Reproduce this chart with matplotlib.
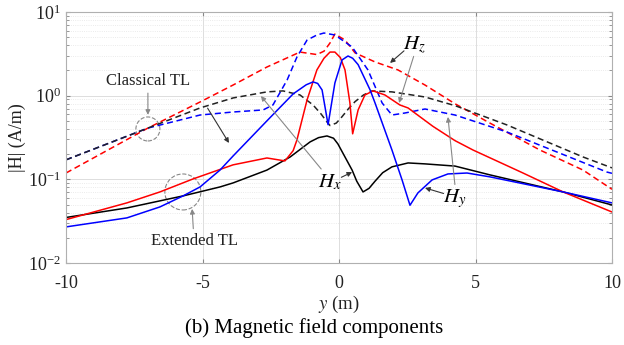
import matplotlib
matplotlib.use("Agg")
import matplotlib.pyplot as plt
from matplotlib.patches import Ellipse

plt.rcParams["font.family"] = ["Liberation Serif", "DejaVu Serif"]
plt.rcParams["mathtext.fontset"] = "stix"
plt.rcParams["axes.unicode_minus"] = False

# |H| (A/m), y in metres
hz_cl_y = [-10, -7.0, -5.09, -3.88, -2.64, -1.43, -0.81, -0.55, -0.33, -0.15, 0.22, 0.59,
           1.32, 2.16, 3.15, 4.25, 5.53, 7.36, 8.94, 10]
hz_cl = [0.119, 0.41, 0.84, 1.34, 2.20, 3.32, 3.10, 3.40, 4.26, 5.46, 4.62, 3.24,
         2.53, 2.03, 1.34, 0.80, 0.47, 0.224, 0.129, 0.076]

hx_cl_y = [-10, -7.0, -5.09, -3.88, -2.64, -2.05, -1.43, -0.95, -0.65, -0.44, -0.33, -0.1,
           0.11, 0.35, 0.59, 0.9, 1.21, 1.94, 3.15, 4.25, 6.15, 8.94, 10]
hx_cl = [0.171, 0.41, 0.713, 0.939, 1.11, 1.14, 1.02, 0.774, 0.60, 0.485, 0.44, 0.47,
         0.56, 0.70, 0.85, 1.02, 1.14, 1.11, 0.964, 0.76, 0.447, 0.185, 0.137]

hy_cl_y = [-10, -7.0, -5.09, -3.88, -2.78, -2.42, -1.90, -1.54, -1.17, -0.81, -0.55, -0.15,
           0.48, 1.06, 1.58, 1.94, 2.42, 3.15, 4.25, 6.15, 9.82, 10]
hy_cl = [0.171, 0.41, 0.587, 0.638, 0.675, 0.774, 1.54, 2.90, 4.62, 5.31, 5.61, 5.31,
         3.82, 2.03, 0.818, 0.587, 0.621, 0.693, 0.587, 0.368, 0.122, 0.118]

hx_ex_y = [-10, -7.77, -5.71, -4.36, -3.88, -2.64, -1.79, -1.06, -0.75, -0.44, -0.2, -0.04,
           0.2, 0.48, 0.65, 0.88, 1.1, 1.32, 1.6, 1.94, 2.53, 3.15, 4.25, 5.53, 8.21, 10]
hx_ex = [0.035, 0.0455, 0.0634, 0.0811, 0.0906, 0.129, 0.185, 0.280, 0.315, 0.330, 0.31, 0.265,
         0.19, 0.129, 0.095, 0.0707, 0.078, 0.095, 0.12, 0.141, 0.157, 0.153, 0.144, 0.113,
         0.0707, 0.0494]

hz_ex_y = [-10, -7.77, -6.56, -5.35, -3.88, -2.64, -1.98, -1.68, -1.54, -1.17, -0.81, -0.55,
           -0.33, -0.15, 0.05, 0.22, 0.40, 0.50, 0.70, 0.95, 1.25, 1.68, 2.23, 2.53, 3.44,
           4.25, 4.91, 6.74, 8.21, 10]
hz_ex = [0.033, 0.0523, 0.0707, 0.101, 0.149, 0.180, 0.166, 0.22, 0.296, 0.889, 2.03, 2.8,
         3.32, 3.32, 2.85, 2.03, 0.818, 0.35, 0.675, 1.02, 1.14, 1.02, 0.774, 0.713, 0.43,
         0.29, 0.224, 0.119, 0.0707, 0.0407]

hy_ex_y = [-10, -7.77, -6.56, -5.71, -5.09, -4.36, -3.88, -2.64, -1.68, -1.2, -0.95, -0.78,
           -0.62, -0.40, -0.15, 0.11, 0.33, 0.5, 0.70, 1.14, 1.32, 1.94, 2.31, 2.60, 2.89,
           3.41, 3.99, 4.69, 5.53, 8.21, 10]
hy_ex = [0.027, 0.0346, 0.0468, 0.0634, 0.0811, 0.129, 0.19, 0.50, 1.05, 1.35, 1.46, 1.40,
         1.17, 0.45, 1.42, 2.67, 2.98, 2.8, 2.35, 1.17, 0.818, 0.224, 0.0984, 0.049, 0.0688,
         0.0984, 0.116, 0.119, 0.107, 0.0707, 0.0523]

fig = plt.figure(figsize=(6.24, 3.45), dpi=100)
ax = fig.add_axes([66 / 624, 1 - 263 / 345, 546 / 624, 251 / 345])

dash = (4, 2.4)
lw = 1.1
ax.plot(hz_cl_y, hz_cl, color="#ff0000", lw=lw, dashes=dash)
ax.plot(hy_cl_y, hy_cl, color="#0000ff", lw=lw, dashes=dash)
ax.plot(hx_cl_y, hx_cl, color="#222222", lw=lw, dashes=dash)
ax.plot(hx_ex_y, hx_ex, color="#000000", lw=lw)
ax.plot(hz_ex_y, hz_ex, color="#ff0000", lw=lw)
ax.plot(hy_ex_y, hy_ex, color="#0000ff", lw=lw)

ax.set_yscale("log")
ax.set_xlim(-10, 10)
ax.set_ylim(1e-2, 1e1)
ax.set_xticks([-10, -5, 0, 5, 10])
ax.grid(True, which="major", color="#dddddd", lw=0.7)
ax.grid(True, which="minor", axis="y", color="#e4e4e4", lw=0.6, ls=":")
ax.set_axisbelow(True)
ax.tick_params(which="both", direction="in", top=True, right=True, colors="#888888",
               labelcolor="#222222", labelsize=13)
ax.tick_params(which="major", length=3)
ax.tick_params(which="minor", length=2)
ax.tick_params(axis="x", pad=9)
for sp in ax.spines.values():
    sp.set_color("#b0b0b0")

ax.set_xlabel("$y$ (m)", fontsize=13.5, labelpad=1, color="#222222")
ax.set_ylabel("|H| (A/m)", fontsize=13, labelpad=2, color="#222222")

# dashed circles marking the two groups
ax.add_patch(Ellipse((0.150, 0.534), 24 / 546, 24 / 251, transform=ax.transAxes,
                     fill=False, ls="--", lw=0.8, ec="#888888"))
ax.add_patch(Ellipse((0.214, 0.283), 36 / 546, 36 / 251, transform=ax.transAxes,
                     fill=False, ls="--", lw=0.8, ec="#888888"))

grey = dict(arrowstyle="-|>", color="#888888", lw=0.8, mutation_scale=7, shrinkA=1, shrinkB=0)
dark = dict(arrowstyle="-|>", color="#333333", lw=0.8, mutation_scale=7, shrinkA=1, shrinkB=0)

ax.annotate("Classical TL", xy=(-7.0, 0.59), xytext=(-7.0, 1.5), ha="center", va="center",
            fontsize=12, color="#222222", arrowprops=grey)
ax.annotate("Extended TL", xy=(-5.38, 0.0443), xytext=(-5.31, 0.0184), ha="center", va="center",
            fontsize=12, color="#222222", arrowprops=grey)
ax.annotate("", xy=(-4.03, 0.272), xytext=(-4.84, 0.733), arrowprops=dark)

ax.text(-0.33, 0.091, "$H_x$", fontsize=15, ha="center", va="center")
ax.annotate("", xy=(-2.86, 0.99), xytext=(-0.62, 0.129), arrowprops=grey)
ax.annotate("", xy=(0.48, 0.122), xytext=(0.04, 0.104), arrowprops=dark)

ax.text(4.25, 0.059, "$H_y$", fontsize=15, ha="center", va="center")
ax.annotate("", xy=(3.15, 0.0789), xytext=(3.88, 0.067), arrowprops=dark)
ax.annotate("", xy=(3.99, 0.557), xytext=(4.25, 0.0834), arrowprops=grey)

ax.text(2.78, 4.0, "$H_z$", fontsize=15, ha="center", va="center")
ax.annotate("", xy=(1.87, 2.46), xytext=(2.42, 3.52), arrowprops=dark)
ax.annotate("", xy=(2.20, 0.818), xytext=(2.75, 3.06), arrowprops=grey)

fig.text(314 / 624, 1 - 328 / 345, "(b) Magnetic field components", ha="center", va="center",
         fontsize=15)

fig.savefig("out.png", dpi=100)
